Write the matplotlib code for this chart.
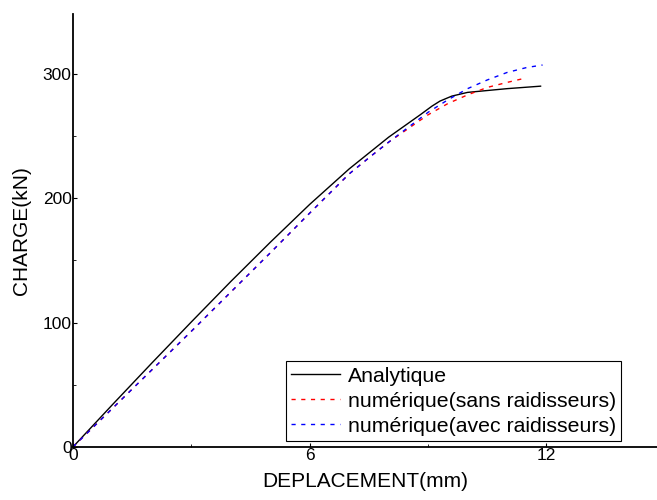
import matplotlib
matplotlib.use('Agg')
import matplotlib.pyplot as plt
from matplotlib.ticker import MultipleLocator

plt.rcParams['font.family'] = ['Liberation Sans', 'DejaVu Sans']

# Courbes charge-deplacement
x_ana = [0, 1, 2, 3, 4, 5, 6, 7, 8, 8.8, 9.1, 9.3, 9.6, 10, 11, 11.85]
y_ana = [0, 34, 67.5, 100.5, 133, 164.5, 195, 223.5, 249, 267, 274, 278, 282, 285, 288, 290]

x_sans = [0, 1, 2, 3, 4, 5, 6, 7, 7.6, 8, 8.5, 9, 9.5, 10, 10.5, 11, 11.4]
y_sans = [0, 31, 62, 93, 124.5, 156, 188, 219.5, 235, 245, 256, 267, 276, 283, 289, 293, 296]

x_avec = [0, 1, 2, 3, 4, 5, 6, 7, 7.6, 8, 8.5, 9, 9.5, 10, 10.5, 11, 11.5, 11.9]
y_avec = [0, 31, 62, 93, 124.5, 156, 188, 219.5, 235, 245, 257, 269, 279, 288, 295, 301, 305, 307]

xticks = [0, 6, 12]
yticks = [0, 100, 200, 300]

fig = plt.figure(figsize=(6.57, 5), dpi=100)
ax = fig.add_axes([0.111, 0.106, 0.889, 0.866])

ax.plot(x_ana, y_ana, color='black', lw=1.0, label='Analytique')
ax.plot(x_sans, y_sans, color='red', lw=1.0, dashes=(3, 4),
        label='numérique(sans raidisseurs)')
ax.plot(x_avec, y_avec, color='blue', lw=1.0, dashes=(3, 4),
        label='numérique(avec raidisseurs)')

ax.set_xlim(0, 14.8)
ax.set_ylim(0, 348)
ax.set_xticks(xticks)
ax.set_yticks(yticks)
ax.xaxis.set_minor_locator(MultipleLocator(3))
ax.yaxis.set_minor_locator(MultipleLocator(50))
ax.tick_params(which='both', direction='in', labelsize=12.5, pad=1)
ax.tick_params(which='major', length=3)
ax.tick_params(which='minor', length=2)

for s in ['top', 'right']:
    ax.spines[s].set_visible(False)
for s in ['left', 'bottom']:
    ax.spines[s].set_linewidth(1.3)

ax.set_xlabel('DEPLACEMENT(mm)', fontsize=15, labelpad=6)
ax.set_ylabel('CHARGE(kN)', fontsize=15, labelpad=8)

leg = ax.legend(loc='lower left', bbox_to_anchor=(286 / 657, 1 - 441 / 500),
                bbox_transform=fig.transFigure, fontsize=15.3, fancybox=False,
                framealpha=1, edgecolor='black', borderpad=0.25,
                handlelength=2.3, handletextpad=0.35, labelspacing=0.28,
                borderaxespad=0)
leg.get_frame().set_linewidth(0.8)

fig.savefig('out.png', dpi=100)
